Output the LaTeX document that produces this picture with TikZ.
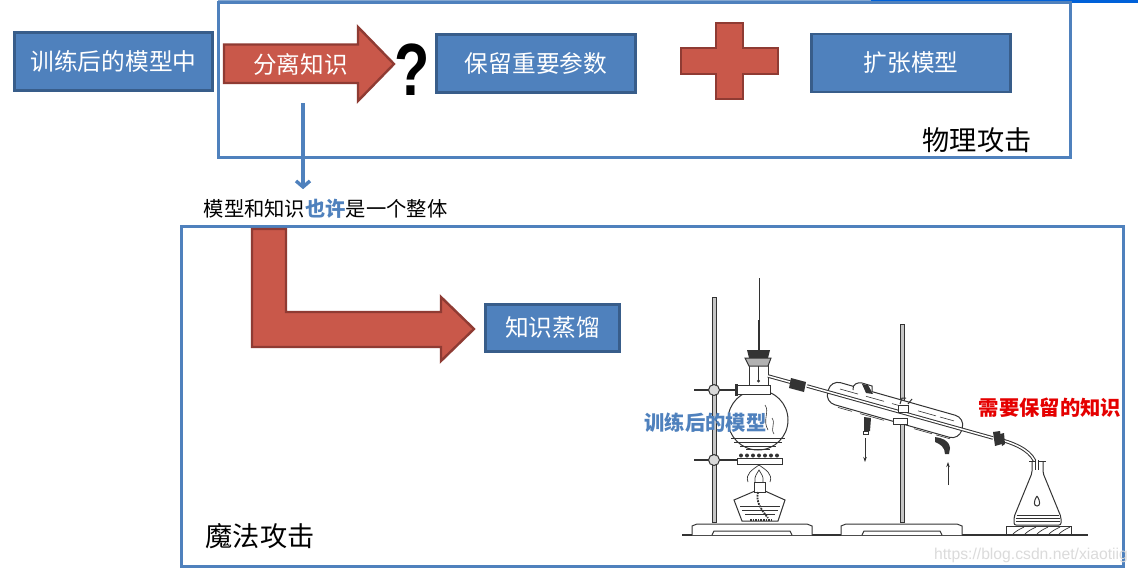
\documentclass[tikz,border=0pt]{standalone}
\usepackage{fontspec}
\setmainfont{Noto Sans CJK SC}
\newfontfamily\quizfont{Liberation Sans}
\usetikzlibrary{arrows.meta}
\definecolor{boxblue}{HTML}{4F81BD}
\definecolor{boxedge}{HTML}{385D8A}
\definecolor{redfill}{HTML}{C9584A}
\definecolor{rededge}{HTML}{8F3B33}
\definecolor{ink}{HTML}{333333}
\begin{document}
\begin{tikzpicture}[x=1pt,y=-1pt,
  blue box/.style={rectangle,fill=boxblue,draw=boxedge,line width=2.4pt,text=white,inner sep=0pt,
    font=\fontsize{23.7}{26}\selectfont},
  red shape/.style={fill=redfill,draw=rededge,line width=2.4pt,line join=miter},
  frame box/.style={draw=boxblue,line width=3pt},
  big text/.style={text=black,inner sep=0pt,font=\fontsize{27.2}{30}\selectfont},
  flask label/.style={inner sep=0pt,font=\fontsize{20.3}{24}\selectfont\bfseries},
  glass/.style={draw=ink,line width=1pt},
  rod/.style={draw=ink,fill=gray!45,line width=.9pt},
  tube/.style={draw=ink,line width=1pt,double=white,double distance=1.5pt},
  flow/.style={draw=ink,line width=.8pt,-{Stealth[length=5pt,width=3.5pt]}}]

  \useasboundingbox (0,0) rectangle (1138,573);
  \fill[white] (0,0) rectangle (1138,573);

  \draw[line width=2pt,boxblue!70] (218,1) -- (871,1);
  \draw[line width=3pt,blue!55!cyan!85!black] (871,1) -- (1138,1);

  \draw[frame box] (218,2.5) rectangle (1070,157);
  \draw[frame box] (181,226) rectangle (1123,566);

  \node[blue box,minimum width=198pt,minimum height=58pt] (trained) at (113.5,61.5) {训练后的模型中};
  \node[blue box,minimum width=199pt,minimum height=58pt] (keep) at (536,63.5) {保留重要参数};
  \node[blue box,minimum width=199pt,minimum height=58pt] (expand) at (911,63) {扩张模型};
  \node[blue box,minimum width=134pt,minimum height=47pt] (distill) at (552.5,328) {知识蒸馏};

  \draw[red shape] (224,44.5) -- (358,44.5) -- (358,27) -- (394,64) -- (358,101) -- (358,83) -- (224,83) -- cycle;
  \node[text=white,inner sep=0pt,font=\fontsize{23.6}{26}\selectfont] (split) at (300.5,64) {分离知识};
  \node[inner sep=0pt,xscale=.78,font=\quizfont\fontsize{74}{80}\selectfont\bfseries] (quiz) at (412,70) {?};

  \draw[red shape] (716,23) -- (743,23) -- (743,48) -- (778,48) -- (778,74) -- (743,74) -- (743,99)
    -- (716,99) -- (716,74) -- (681,74) -- (681,48) -- (716,48) -- cycle;

  \draw[red shape] (252,229) -- (286,229) -- (286,312) -- (441,312) -- (441,297) -- (474,329)
    -- (441,361) -- (441,347) -- (252,347) -- cycle;

  \node[big text] (physical) at (977,140) {物理攻击};
  \node[big text] (magic) at (260,536) {魔法攻击};

  \node[inner sep=0pt,font=\fontsize{20.3}{24}\selectfont] (whole) at (325.5,209)
    {模型和知识{\bfseries\color{boxblue}也许}是一个整体};

  \coordinate (d1) at (303,103);
  \draw[draw=boxblue,line width=3.4pt,-{Straight Barb[length=6pt,width=14pt]},shorten >=10pt]
    (d1) -- (whole.north -| d1);

  %% stands
  \draw[ink,line width=1.1pt] (682,535) -- (1088,535);
  \draw[rod] (712.5,297) rectangle (716,522);
  \draw[rod] (900.5,324) rectangle (904,522);
  \draw[glass,fill=white] (692,535) -- (692,526) -- (697,524) -- (807,524) -- (812,526) -- (812,535);
  \draw[glass] (712,535) -- (714,531) -- (790,531) -- (792,535);
  \draw[glass,fill=white] (841,535) -- (841,526) -- (846,524) -- (957,524) -- (962,526) -- (962,535);
  \draw[glass] (862,535) -- (864,531) -- (940,531) -- (942,535);
  \draw[glass] (1006,526) rectangle (1071,535);
  \foreach \x in {1012,1024,1036,1048,1058}
    \draw[glass,line width=.7pt] (\x,535) .. controls (\x+4,531) and (\x+6,530) .. (\x+12,527);

  %% boiling flask
  \draw[glass,fill=white] (758,420) circle [radius=30];
  \draw[glass,fill=white] (749,358) rectangle (768,386);
  \draw[glass,fill=white] (737,385) rectangle (770,394);
  \fill[ink] (747,350) -- (770,350) -- (768,358) -- (749,358) -- cycle;
  \draw[glass,fill=gray!60] (745,358) -- (771,358) -- (768,366) -- (749,366) -- cycle;
  \draw[ink,line width=1pt] (759,278) -- (759,320);
  \draw[ink,line width=2.2pt] (759,320) -- (759,350);
  \draw[ink,line width=1.4pt] (758.5,366) -- (758.5,380);
  \fill[ink] (758.5,381) circle [radius=1.6];
  \foreach \y/\w in {438/27,442/24,446/18,449/12}
    \draw[glass,line width=.7pt] (758-\w,\y) -- (758+\w,\y);
  \draw[glass,line width=.6pt] (765,405) .. controls (770,412) and (762,420) .. (768,430);
  \draw[glass,line width=.6pt] (772,418) .. controls (776,424) and (770,428) .. (774,434);

  %% clamps
  \draw[ink,line width=1.6pt] (694,390) -- (737,390);
  \fill[ink] (735,384) rectangle (738,396);
  \draw[glass,fill=gray!30] (714,390) circle [radius=5.5];
  \draw[ink,line width=1.6pt] (694,460) -- (737,460);
  \draw[glass,fill=white] (737,458) rectangle (782,464);
  \draw[glass,fill=gray!30] (714,460) circle [radius=5.5];
  \foreach \x in {741,747,...,777}
    \fill[ink] (\x,455.5) circle [radius=2];

  %% burner
  \draw[glass,fill=white] (734,500) -- (755,491) -- (765,491) -- (785,500) -- (778,521) -- (742,521) -- cycle;
  \draw[glass,fill=white] (754,482) rectangle (765,492);
  \draw[glass,line width=.7pt] (748,482) .. controls (745,474) and (752,470) .. (759,465)
    .. controls (766,470) and (773,474) .. (770,482);
  \draw[glass,line width=.7pt] (755,482) .. controls (754,476) and (757,474) .. (759,470)
    .. controls (761,474) and (764,476) .. (763,482);
  \foreach \y/\w in {506/20,510/18,514/15}
    \draw[glass,line width=.7pt] (760-\w,\y) -- (760+\w,\y);
  \draw[ink,line width=1.8pt,densely dotted] (758,492) .. controls (756,502) and (760,508) .. (768,518);
  \draw[ink,line width=1.6pt,densely dotted] (750,520) -- (772,520);

  %% condenser
  \draw[glass,fill=white,rounded corners=10pt] (831,380) -- (965,418) -- (959,440) -- (825,402) -- cycle;
  \foreach \a/\b in {840/858,866/884,892/904,918/936,940/954}
    \draw[glass,line width=.6pt] (\a,389+.28*\a-235.2) -- (\b,389+.28*\b-235.2);
  \foreach \a/\b in {838/852,860/884,914/932,936/950}
    \draw[glass,line width=.6pt] (\a,408+.28*\a-235.2) -- (\b,408+.28*\b-235.2);
  \draw[tube] (768,376) -- (797,384);
  \draw[tube] (807,386) -- (993,438);
  \fill[ink] (791,378) -- (806,382) -- (804,392) -- (789,388) -- cycle;
  \draw[tube] (995,438) -- (1008,442) .. controls (1025,448) and (1036,456) .. (1037,470);
  \fill[ink] (993,432) -- (1000,431) -- (1002,444) -- (995,446) -- cycle;
  \fill[ink] (1000,434) -- (1004,433) -- (1005,444) -- (1002,446) -- cycle;
  \draw[glass,fill=white] (853,390) .. controls (852,384) and (858,382) .. (862,383) -- (872,386) -- (872,392);
  \fill[ink] (862,384) -- (868,385) -- (873,394) -- (866,393) -- cycle;
  \fill[ink] (864,417) -- (871,418) -- (870,431) -- (864,431) -- cycle;
  \draw[glass,fill=white] (863,431) rectangle (868,434);
  \fill[ink] (935,437) .. controls (942,438) and (949,440) .. (950,448) -- (949,454) -- (945,454)
    .. controls (945,447) and (940,444) .. (935,442) -- cycle;
  \draw[glass,fill=white] (898,405) rectangle (908,412);
  \draw[glass,fill=white] (893,418) rectangle (907,424);
  \draw[glass] (900,404) -- (902,398) -- (906,398);
  \draw[glass] (908,404) -- (912,399);

  \coordinate (d2) at (865,438);
  \coordinate (d3) at (865,462);
  \coordinate (d4) at (948,485);
  \coordinate (d5) at (948,462);
  \draw[flow] (d2) -- (d3);
  \draw[flow] (d4) -- (d5);

  %% receiving flask
  \draw[glass,fill=white,rounded corners=2pt] (1032,461) -- (1032,473) -- (1014,517) -- (1014,525) -- (1061,525)
    -- (1061,517) -- (1043,473) -- (1043,461);
  \draw[glass] (1029,461) -- (1046,461);
  \draw[tube] (1037,460) -- (1037,470);
  \foreach \y/\w in {515/21,518/22,521/22}
    \draw[glass,line width=.7pt] (1037.5-\w,\y) -- (1037.5+\w,\y);
  \draw[glass] (1037,496) .. controls (1033,502) and (1034,506) .. (1037,506) .. controls (1040,506) and (1041,502) .. (1037,496);

  \node[flask label,text=boxblue] (model) at (705.5,423) {训练后的模型};
  \node[flask label,text=red!90!black] (wanted) at (1050,408) {需要保留的知识};
  \node[inner sep=0pt,text=gray!28,font=\quizfont\fontsize{15.7}{18}\selectfont] (mark) at (1031,555)
    {https://blog.csdn.net/xiaotiig};
\end{tikzpicture}
\end{document}
